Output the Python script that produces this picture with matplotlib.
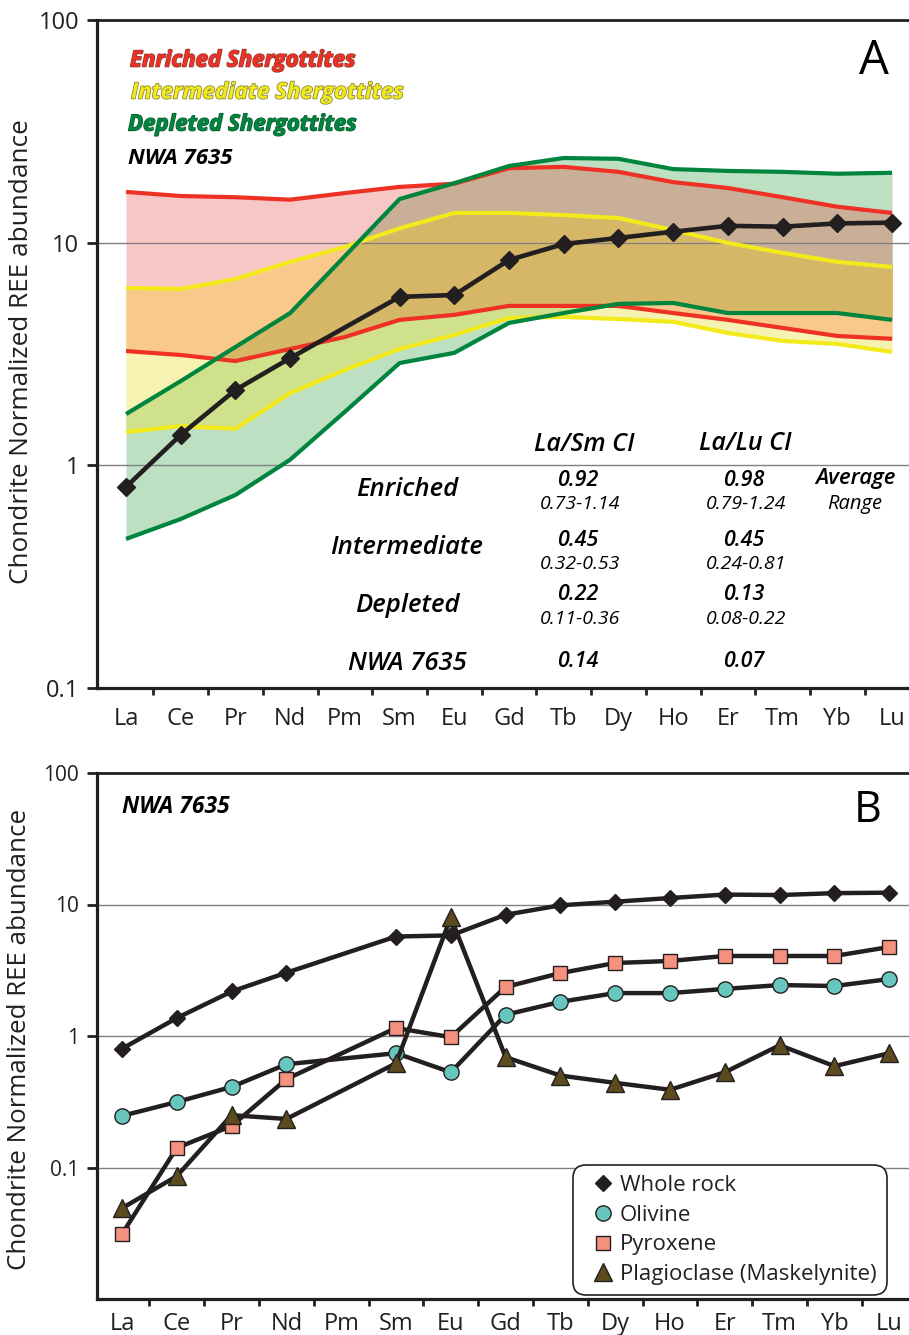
import numpy as np
import matplotlib
matplotlib.use('Agg')
import matplotlib.pyplot as plt
import matplotlib.patheffects as pe
from matplotlib.lines import Line2D

nan = np.nan
elements = ['La', 'Ce', 'Pr', 'Nd', 'Pm', 'Sm', 'Eu', 'Gd', 'Tb', 'Dy', 'Ho', 'Er', 'Tm', 'Yb', 'Lu']

# Panel A: shergottite envelopes (chondrite normalised)
enriched_max = [16.9, 16.2, 16.0, 15.6, 16.7, 17.8, 18.4, 21.6, 21.9, 20.8, 18.7, 17.6, 16.0, 14.5, 13.6]
enriched_min = [3.26, 3.13, 2.94, 3.33, 3.77, 4.5, 4.74, 5.2, 5.2, 5.2, 4.83, 4.5, 4.14, 3.81, 3.70]
intermediate_max = [6.26, 6.2, 6.87, 8.2, 9.57, 11.6, 13.6, 13.6, 13.3, 12.9, 11.4, 9.97, 9.0, 8.2, 7.78]
intermediate_min = [1.41, 1.50, 1.46, 2.11, 2.68, 3.33, 3.85, 4.59, 4.64, 4.54, 4.41, 3.93, 3.62, 3.51, 3.23]
depleted_max = [1.70, 2.39, 3.40, 4.83, 8.7, 15.7, 18.5, 22.1, 24.0, 23.8, 21.4, 21.0, 20.8, 20.4, 20.6]
depleted_min = [0.467, 0.574, 0.736, 1.06, 1.74, 2.88, 3.2, 4.36, 4.83, 5.31, 5.36, 4.83, 4.83, 4.83, 4.5]

# NWA 7635 whole rock and minerals
whole_rock = [0.80, 1.37, 2.18, 3.03, nan, 5.71, 5.82, 8.36, 9.86, 10.5, 11.2, 11.9, 11.8, 12.2, 12.3]
olivine = [0.247, 0.315, 0.41, 0.61, nan, 0.74, 0.53, 1.45, 1.82, 2.12, 2.12, 2.28, 2.44, 2.4, 2.71]
pyroxene = [0.0312, 0.141, 0.207, 0.47, nan, 1.15, 0.98, 2.36, 3.01, 3.59, 3.72, 4.06, 4.06, 4.06, 4.75]
plagioclase = [0.049, 0.086, 0.25, 0.234, nan, 0.62, 8.0, 0.69, 0.50, 0.44, 0.39, 0.53, 0.85, 0.59, 0.74]

# Ratio table
table_rows = ['Enriched', 'Intermediate', 'Depleted', 'NWA 7635']
lasm_avg = ['0.92', '0.45', '0.22', '0.14']
lasm_range = ['0.73-1.14', '0.32-0.53', '0.11-0.36', '']
lalu_avg = ['0.98', '0.45', '0.13', '0.07']
lalu_range = ['0.79-1.24', '0.24-0.81', '0.08-0.22', '']

FONT = ['Open Sans', 'DejaVu Sans']
plt.rcParams['font.family'] = FONT
INK = '#231F20'
RED = '#EE3124'
YEL = '#F2EA1A'
GRN = '#00853F'

W, H = 909, 1335
fig = plt.figure(figsize=(W / 100, H / 100), dpi=100)


def fxy(px, py):
    return px / W, 1 - py / H


axA = fig.add_axes([97 / W, 1 - 688 / H, 812 / W, 668 / H])
axB = fig.add_axes([97 / W, 1 - 1299 / H, 812 / W, 526 / H])

x = np.arange(len(elements), dtype=float)

# ---------- Panel A fills (exact overlaps of piecewise-linear bands in log space)
logs = [np.log10(np.array(c, dtype=float)) for c in
        (enriched_min, enriched_max, intermediate_min, intermediate_max, depleted_min, depleted_max)]
xs = set(x.tolist())
for i in range(len(x) - 1):
    for a in range(6):
        for b in range(a + 1, 6):
            d0 = logs[a][i] - logs[b][i]
            d1 = logs[a][i + 1] - logs[b][i + 1]
            if d0 * d1 < 0:
                xs.add(x[i] + d0 / (d0 - d1))
xg = np.array(sorted(xs))
eL, eH, iL, iH, dL, dH = [np.interp(xg, x, c) for c in logs]


def fill(lo, hi, color):
    m = hi >= lo - 1e-9
    axA.fill_between(xg, 10 ** lo, 10 ** hi, where=m, color=color, lw=0, zorder=1,
                     antialiased=True)


fill(eL, eH, '#F7C7C6')
fill(iL, iH, '#F6F3B2')
fill(dL, dH, '#BDE0C2')
fill(np.maximum(eL, iL), np.minimum(eH, iH), '#F9C98B')
fill(np.maximum(iL, dL), np.minimum(iH, dH), '#D0E18B')
fill(np.maximum(eL, dL), np.minimum(eH, dH), '#C9AF96')
fill(np.maximum.reduce([eL, iL, dL]), np.minimum.reduce([eH, iH, dH]), '#D5B767')

for v in (10, 1):
    axA.axhline(v, color='#808080', lw=1.0, zorder=1.5)

for lo, hi, c in ((enriched_min, enriched_max, RED),
                  (intermediate_min, intermediate_max, YEL),
                  (depleted_min, depleted_max, GRN)):
    axA.plot(x, lo, color=c, lw=3.0, zorder=2, solid_capstyle='butt')
    axA.plot(x, hi, color=c, lw=3.0, zorder=2, solid_capstyle='butt')

wr = np.array(whole_rock)
m = ~np.isnan(wr)
axA.plot(x[m], wr[m], color=INK, lw=3.3, marker='D', ms=9, zorder=3)

# ---------- Panel B
mineral_series = [
    (whole_rock, 'Whole rock', dict(marker='D', ms=8.5, mfc=INK, mec=INK, mew=1)),
    (olivine, 'Olivine', dict(marker='o', ms=11, mfc='#67C6BE', mec=INK, mew=1)),
    (pyroxene, 'Pyroxene', dict(marker='s', ms=10, mfc='#F4917F', mec=INK, mew=1)),
    (plagioclase, 'Plagioclase (Maskelynite)', dict(marker='^', ms=13, mfc='#5B4B1E', mec=INK, mew=1)),
]
handles = []
for k, (vals, lab, st) in enumerate(mineral_series):
    v = np.array(vals)
    mm = ~np.isnan(v)
    axB.plot(x[mm], v[mm], color=INK, lw=3.2, zorder=3 + k, **st)
    handles.append(Line2D([], [], linestyle='none', label=lab, **st))

for v in (10, 1, 0.1):
    axB.axhline(v, color='#808080', lw=1.0, zorder=1.5)

# ---------- axes styling
for ax, xl, yl, ylab_size, xpad in ((axA, (-0.53, 14.31), (0.1, 100), 17, 14),
                                    (axB, (-0.456, 14.36), (0.01, 100), 15, 9)):
    ax.set_yscale('log')
    ax.set_ylim(*yl)
    ax.set_xlim(*xl)
    ax.set_xticks(np.arange(0.5, 14, 1))
    ax.set_xticklabels([])
    ax.set_xticks(x, minor=True)
    ax.set_xticklabels(elements, minor=True, fontsize=17, color=INK)
    ax.tick_params(axis='x', which='major', direction='out', length=5, width=2, color=INK)
    ax.tick_params(axis='x', which='minor', length=0, pad=xpad)
    ax.yaxis.set_minor_locator(matplotlib.ticker.NullLocator())
    ax.tick_params(axis='y', which='major', direction='out', length=7, width=2,
                   color=INK, labelsize=ylab_size, labelcolor=INK, pad=6)
    ax.spines['right'].set_visible(False)
    for s in ('left', 'bottom'):
        ax.spines[s].set_linewidth(2.3)
        ax.spines[s].set_color(INK)
    ax.spines['top'].set_linewidth(2.0)
    ax.spines['top'].set_color(INK)
    ax.set_facecolor('white')

axA.set_yticks([0.1, 1, 10, 100])
axA.set_yticklabels(['0.1', '1', '10', '100'])
axB.set_yticks([0.1, 1, 10, 100])
axB.set_yticklabels(['0.1', '1', '10', '100'])

ylab = 'Chondrite Normalized REE abundance'
fig.text(*fxy(22, 352), ylab, rotation=90, ha='center', va='center', fontsize=18.8, color=INK)
fig.text(*fxy(20, 1039), ylab, rotation=90, ha='center', va='center', fontsize=18.6, color=INK)

fig.text(*fxy(874, 61), 'A', ha='center', va='center', fontsize=34, color='black')
fig.text(*fxy(868, 811), 'B', ha='center', va='center', fontsize=31, color='black')

# legend-style titles in panel A
sty = dict(ha='left', va='center', fontsize=16, fontweight='bold', fontstyle='italic')
fig.text(*fxy(130, 61), 'Enriched Shergottites', color=RED,
         path_effects=[pe.withStroke(linewidth=1.2, foreground='#9a3a30')], **sty)
fig.text(*fxy(131, 93), 'Intermediate Shergottites', color=YEL,
         path_effects=[pe.withStroke(linewidth=1.2, foreground='#8f8a3a')], **sty)
fig.text(*fxy(128, 125), 'Depleted Shergottites', color=GRN,
         path_effects=[pe.withStroke(linewidth=1.0, foreground='#0b5a30')], **sty)
fig.text(*fxy(128, 158), 'NWA 7635', color='black', **sty)
sty['fontsize'] = 16.5
fig.text(*fxy(122, 807), 'NWA 7635', color='black', **sty)

# ratio table in panel A
tsty = dict(ha='center', va='center', fontstyle='italic', color='black')
fig.text(*fxy(584, 445), 'La/Sm CI', fontsize=18, fontweight='semibold', **tsty)
fig.text(*fxy(745, 443), 'La/Lu CI', fontsize=18, fontweight='semibold', **tsty)
row_y = [490, 548, 605, 663]
avg_y = [481, 540, 595, 661]
rng_y = [504, 564, 619, 0]
for r in range(4):
    fig.text(*fxy(407, row_y[r]), table_rows[r], fontsize=18.5, fontweight='semibold', **tsty)
    fig.text(*fxy(578, avg_y[r]), lasm_avg[r], fontsize=15.5, fontweight='semibold', **tsty)
    fig.text(*fxy(744, avg_y[r]), lalu_avg[r], fontsize=15.5, fontweight='semibold', **tsty)
    if lasm_range[r]:
        fig.text(*fxy(580, rng_y[r]), lasm_range[r], fontsize=14, **tsty)
        fig.text(*fxy(746, rng_y[r]), lalu_range[r], fontsize=14, **tsty)
fig.text(*fxy(855, 478), 'Average', fontsize=16, fontweight='semibold', **tsty)
fig.text(*fxy(855, 504), 'Range', fontsize=14.5, **tsty)

# legend panel B
leg = axB.legend(handles=handles, loc='upper left', bbox_to_anchor=fxy(573, 1165),
                 bbox_transform=fig.transFigure, borderaxespad=0, fontsize=16,
                 frameon=True, fancybox=True, framealpha=1, edgecolor=INK,
                 handlelength=1.8, handletextpad=-0.13, labelspacing=0.39,
                 borderpad=0.45)
leg.get_frame().set_linewidth(1.2)
leg.get_frame().set_boxstyle('round,pad=0,rounding_size=0.6')
for t in leg.get_texts():
    t.set_color(INK)
leg.set_zorder(10)

fig.savefig('out.png', dpi=100, facecolor='white')
